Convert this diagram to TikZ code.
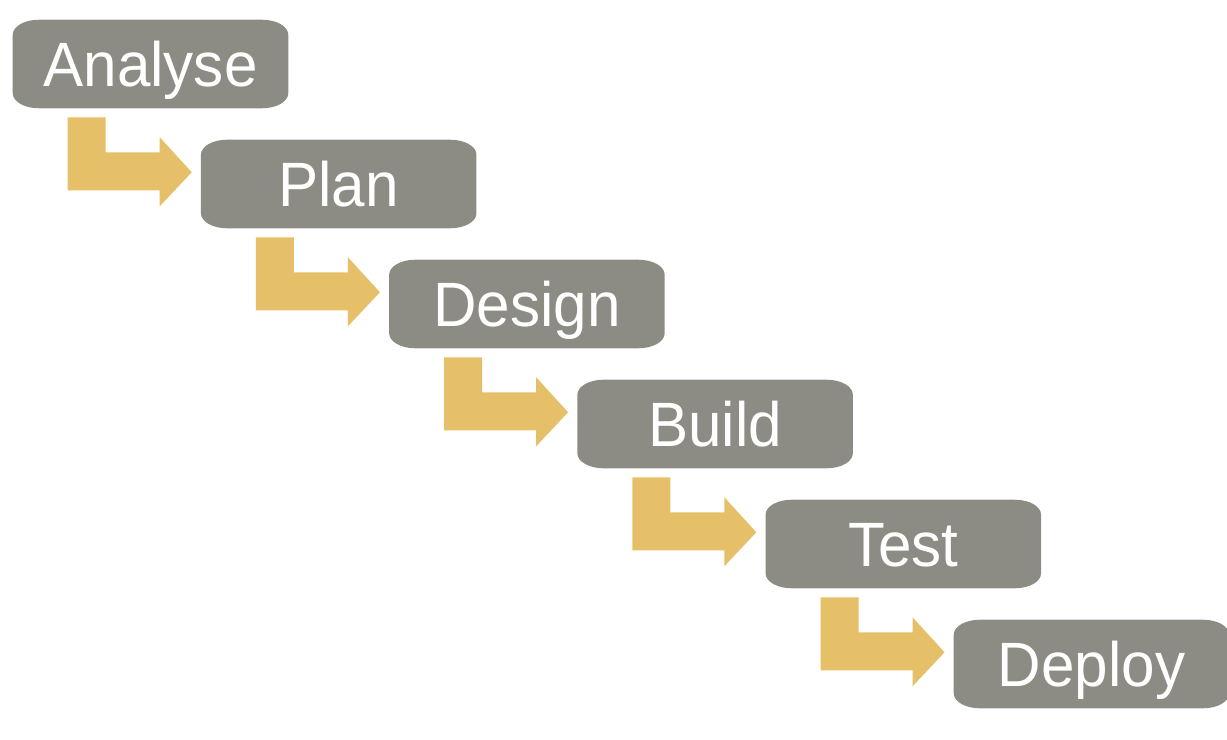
\documentclass[tikz,border=0pt]{standalone}
\usepackage{fontspec}
\setmainfont{Liberation Sans}[FakeStretch=0.96]
\usetikzlibrary{backgrounds}
\definecolor{boxgray}{RGB}{140,140,132}
\definecolor{arrowgold}{RGB}{230,192,104}
\tikzset{
  stepbox/.style={rectangle, inner sep=0pt, minimum width=206.25pt, minimum height=66pt,
    text=white, font=\fontsize{47}{47}\selectfont, text height=33.75pt, text depth=0pt},
  boxfill/.style={fill=boxgray},
  arrowfill/.style={fill=arrowgold}
}
\newcommand\roundbox[1]{%
  \fill[boxfill] ([xshift=19.5pt]#1.north west) -- ([xshift=-19.5pt]#1.north east)
    arc[start angle=90,end angle=0,x radius=19.5pt,y radius=11.25pt]
    -- ([yshift=11.25pt]#1.south east)
    arc[start angle=0,end angle=-90,x radius=19.5pt,y radius=11.25pt]
    -- ([xshift=19.5pt]#1.south west)
    arc[start angle=270,end angle=180,x radius=19.5pt,y radius=11.25pt]
    -- ([yshift=-11.25pt]#1.north west)
    arc[start angle=180,end angle=90,x radius=19.5pt,y radius=11.25pt]
    -- cycle;}
% elbow arrow from box #1 towards the west side of box #2
\newcommand\stairarrow[2]{%
  \fill[arrowfill] ([shift={(55,-9)}]#1.south west) -- ++(38,0) -- ++(0,-35) -- ++(54,0)
    -- ++(0,15) -- ++(32,-35) coordinate (tip-#2) -- ++(-32,-34) -- ++(0,16) -- ++(-92,0) -- cycle;}
\begin{document}
\begin{tikzpicture}[x=0.75pt,y=0.75pt]
\useasboundingbox (0,0) rectangle (1227,-739);
\node[stepbox] (analyse) at (150.5,-64) {Analyse};
\node[stepbox] (plan)    at (338.7,-184) {Plan};
\node[stepbox] (design)  at (526.9,-304) {Design};
\node[stepbox] (build)   at (715.1,-424) {Build};
\node[stepbox] (test)    at (903.3,-544) {Test};
\node[stepbox] (deploy)  at (1091.5,-664) {Deploy};
\begin{scope}[on background layer]
  \foreach \n in {analyse,plan,design,build,test,deploy} {\roundbox{\n}}
  \stairarrow{analyse}{plan}
  \stairarrow{plan}{design}
  \stairarrow{design}{build}
  \stairarrow{build}{test}
  \stairarrow{test}{deploy}
\end{scope}
\end{tikzpicture}
\end{document}
